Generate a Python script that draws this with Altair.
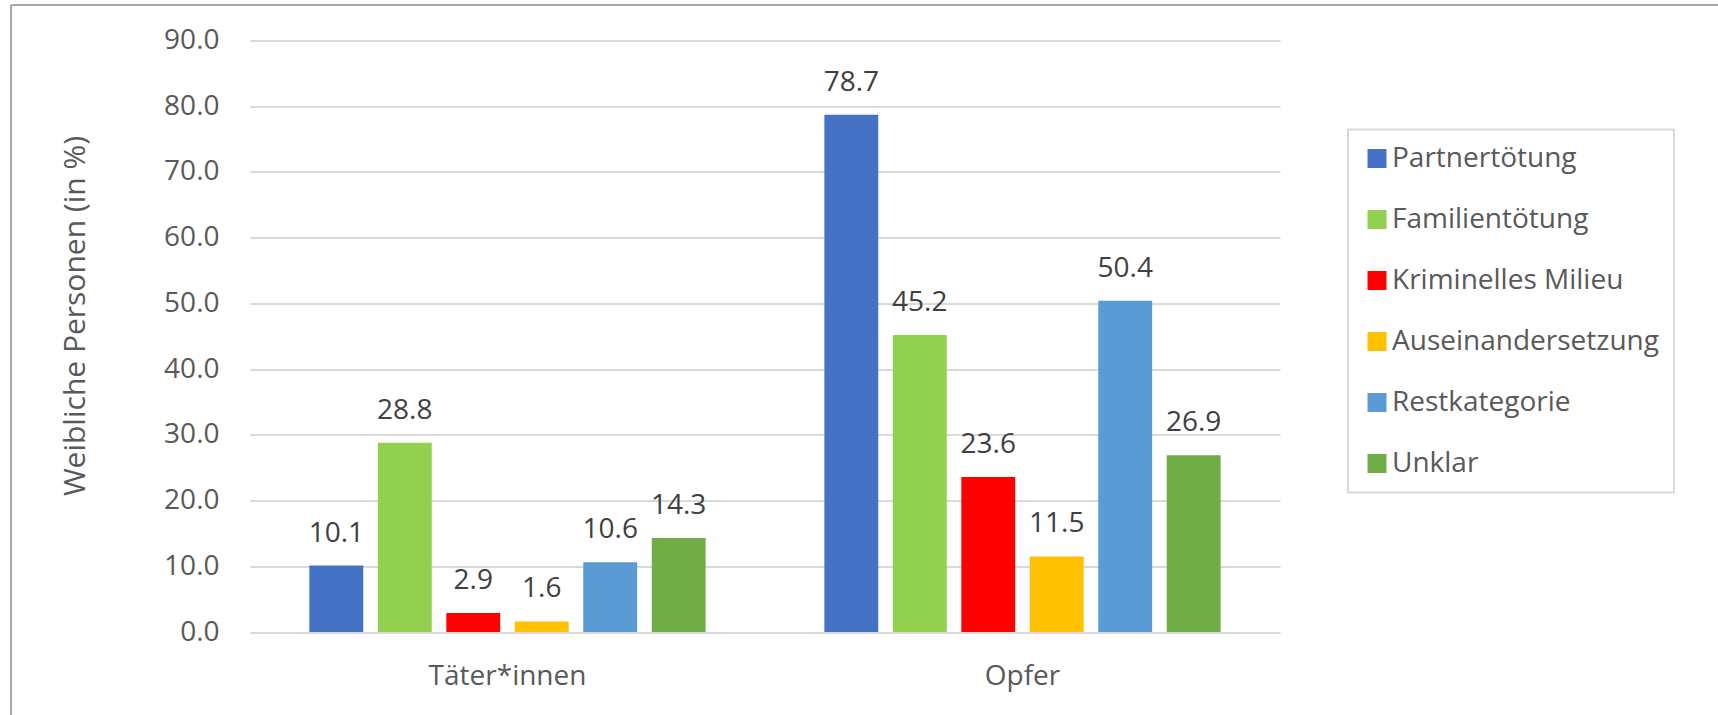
import altair as alt
import pandas as pd

groups = ["Täter*innen", "Opfer"]
categories = ["Partnertötung", "Familientötung", "Kriminelles Milieu",
              "Auseinandersetzung", "Restkategorie", "Unklar"]
taeter_values = [10.1, 28.8, 2.9, 1.6, 10.6, 14.3]
opfer_values = [78.7, 45.2, 23.6, 11.5, 50.4, 26.9]
colors = ["#4472C4", "#92D050", "#FF0000", "#FFC000", "#5B9BD5", "#70AD47"]
y_ticks = [0, 10, 20, 30, 40, 50, 60, 70, 80, 90]

rows = []
for g, vals in zip(groups, [taeter_values, opfer_values]):
    for c, v in zip(categories, vals):
        rows.append({"Gruppe": g, "Kategorie": c, "Wert": v})
df = pd.DataFrame(rows)

FONT = "Open Sans"
FS = 28

x_enc = alt.X("Gruppe:N", sort=groups,
              scale=alt.Scale(paddingInner=0, paddingOuter=0),
              axis=alt.Axis(title=None, labelAngle=0, domain=False, ticks=False, grid=False,
                            labelPadding=44, labelBaseline="middle",
                            labelFontSize=FS, labelFont=FONT, labelColor="#595959"))
xoff_enc = alt.XOffset("Kategorie:N", sort=categories,
                       scale=alt.Scale(paddingInner=0.213, paddingOuter=0.867))
y_enc = alt.Y("Wert:Q", scale=alt.Scale(domain=[0, 90], nice=False),
              axis=alt.Axis(title="Weibliche Personen (in %)", values=y_ticks, format=".1f",
                            domain=False, ticks=False, labelPadding=31,
                            labelFontSize=FS, labelFont=FONT, labelColor="#595959",
                            gridColor="#D9D9D9", gridWidth=2,
                            titleFontSize=30, titleFont=FONT, titleColor="#595959",
                            titleFontWeight="normal", titleX=-175, titleY=275,
                            titleAngle=270, titleAlign="center", titleBaseline="middle"))

bars = alt.Chart(df).mark_bar().encode(
    x=x_enc,
    xOffset=xoff_enc,
    y=y_enc,
    color=alt.Color("Kategorie:N", sort=categories,
                    scale=alt.Scale(domain=categories, range=colors),
                    legend=alt.Legend(title=None, orient="none", legendX=1098, legendY=89,
                                      symbolType="square", symbolSize=361,
                                      symbolStrokeWidth=0, labelFontSize=FS, labelFont=FONT,
                                      labelColor="#595959", labelOffset=1, rowPadding=33,
                                      padding=15, strokeColor="#D9D9D9",
                                      labelLimit=400)),
)

labels = alt.Chart(df).mark_text(dy=-32, baseline="middle", fontSize=FS, font=FONT,
                                 color="#404040").encode(
    x=alt.X("Gruppe:N", sort=groups),
    xOffset=alt.XOffset("Kategorie:N", sort=categories),
    y=alt.Y("Wert:Q"),
    text=alt.Text("Wert:Q", format=".1f"),
)

frame = alt.Data(values=[{"k": 1}])
top_line = alt.Chart(frame).mark_rule(color="#A6A6A6", strokeWidth=2).encode(
    x=alt.value(-239), x2=alt.value(1480), y=alt.value(-35.5))
left_line = alt.Chart(frame).mark_rule(color="#A6A6A6", strokeWidth=2).encode(
    x=alt.value(-239), y=alt.value(-35.5), y2=alt.value(700))

chart = alt.layer(bars, labels, top_line, left_line).properties(
    width=1030, height=591.5,
    background="white",
    autosize=alt.AutoSizeParams(type="none"),
    padding={"left": 250, "top": 40.5, "right": 438, "bottom": 83},
).configure_view(stroke=None, strokeWidth=0).configure_legend(strokeWidth=2)

chart.save("out.html", embed_options={"renderer": "svg", "actions": False})
